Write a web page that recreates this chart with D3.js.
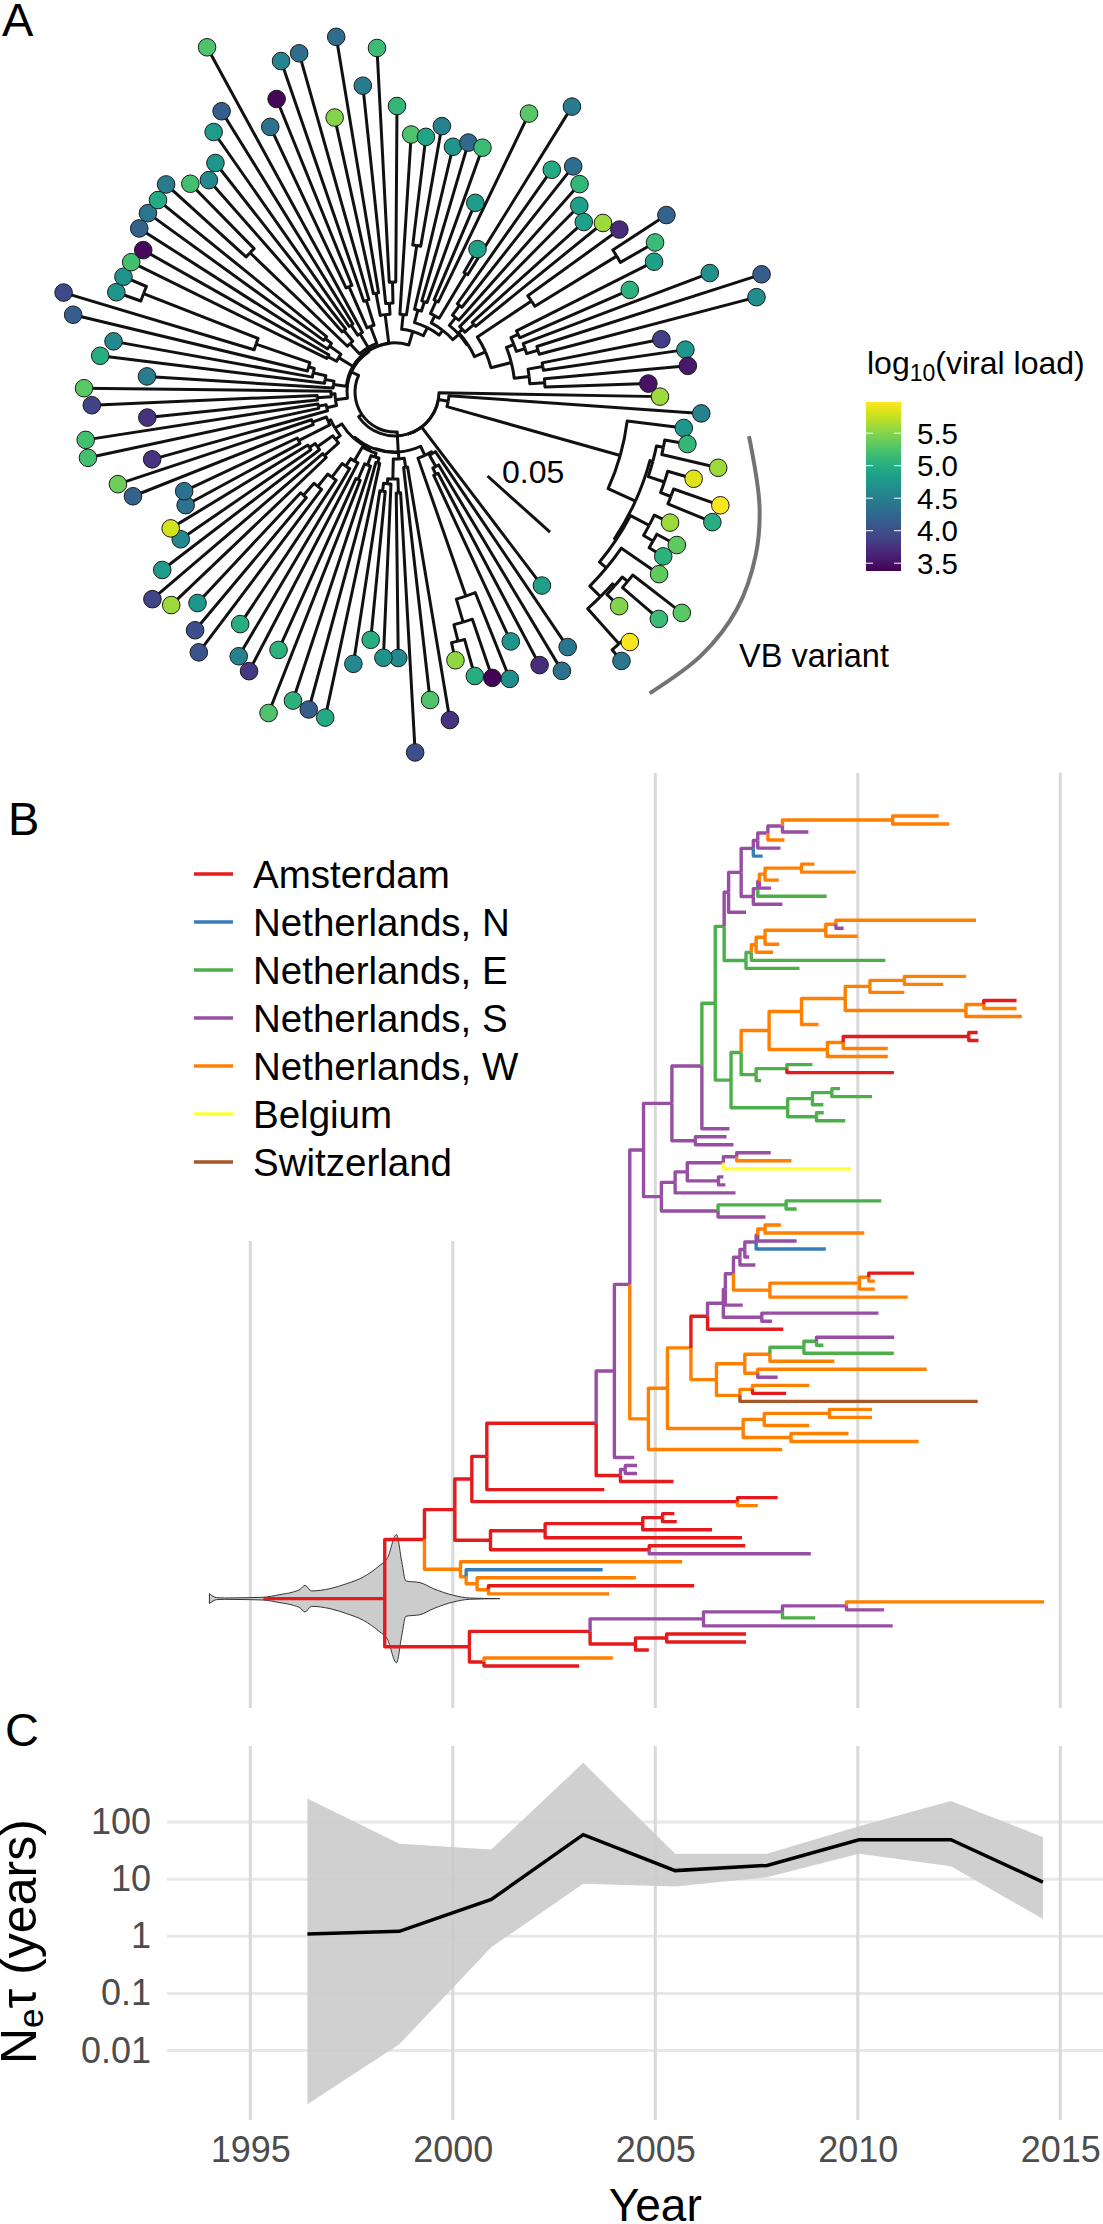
<!DOCTYPE html>
<html><head><meta charset="utf-8">
<script src="https://cdn.jsdelivr.net/npm/d3@7"></script>
<style>html,body{margin:0;padding:0;background:#fff}svg{display:block}text{font-family:"Liberation Sans",Arial,sans-serif}</style>
</head><body><svg id="c" width="1103" height="2224"></svg>
<script>
// ---------- Panel A data: tips clockwise, tree distance units (84 units = 0.05)
const tipAngle=[1,4,7.1,10.1,13.2,16.2,19.2,22.3,25.4,28.5,31.5,34.6,37.6,40.7,43.7,46.8,49.9,52.8,55.9,59.1,62.1,65.1,68.2,71.2,74.3,77.3,80.5,83.5,86.8,89.3,92.5,95.6,98.7,102.1,105.2,108.3,111.5,114.3,117.6,120.6,123.7,127,130,133.1,136.4,139.5,142.6,145.5,148.7,151.6,154.8,158.3,161.6,164.5,167.9,171.2,174.1,177.5,180.7,183.6,187,190.2,193.5,196.7,199.7,203,206.2,209.4,212.6,215.9,219,222.2,225.5,228.7,231.9,235.1,238.3,241.4,244.8,248,251,254.2,257.6,260.6,264,267,270.4,273.6,276.9,280,283.3,286.4,289.7,293,295.7,300,301.8,305.2,308.3,311.6,314.7,318,320.9,324.1,326.9,330.1,333.3,336.5,339.3,342.2,345.3,348.8,351.7,354.9,358.1];
const tipDist=[265,307,291,297,332,311,344.5,343,304.5,320.7,314.6,320.8,362,348,310,343,351.6,243,308,325,309,275,309,302,295,275,332.6,310,361,266,266,249,275,333,329,325,345,283,315,307,279,326,311,289,309,319,293,260,262.5,238,233,282,292,252,314,313,249,303.5,311,248.5,297,286,331,346,296,295,294,289,303.6,305,305,309,292,282,291,317,330,392.6,293,316,350,352,281,360,308,344.5,286,258,257,270,252,260,259.5,205.5,309,165,335.8,272,287.5,278,262,254,268,277,324,300,290,256,336.5,385,373.7,271.5,293.5,294,253.5];
const tipLoad=[5.6,4.5,4.75,5.1,5.6,5.85,5.95,5.0,5.6,5.35,5.05,5.35,5.3,5.15,5.5,5.95,4.4,4.85,4.4,4.35,3.7,4.75,4.65,3.4,5.0,5.55,3.75,5.25,4.0,4.6,4.7,5.0,4.6,4.95,4.15,5.05,5.25,5.05,3.8,4.5,5.0,4.05,4.0,4.75,5.6,3.9,4.8,4.6,5.8,4.35,4.35,4.2,5.4,3.75,5.2,5.2,3.75,3.9,5.3,4.45,5.0,4.6,4.15,3.95,4.75,4.7,5.2,3.45,4.2,4.4,4.95,4.45,5.2,4.6,4.75,4.8,4.15,5.25,4.35,3.42,4.55,4.3,5.5,4.3,4.45,5.15,5.1,5.25,4.9,4.5,4.75,4.25,5.15,4.8,5.3,4.85,4.45,4.95,4.3,5.1,4.85,4.85,5.6,3.7,4.2,5.15,4.85,5.05,4.7,4.15,4.65,3.85,4.75,3.55,3.5];
// nested tree: [node distance, ...children]; 0 = next tip in order
const treeAVB=[234,0,[264,[267,[274,0,0],[284,0,[295,0,0]]],[266,[287,0,[298,0,0]],[275,0,[290,[293,[300,0,0],0],[337,0,0]]]]]];
const treeASouth=[70,[72,0,[85,0,[92,0,0]]],[216,0,[240,0,[257,0,0]]]];
const treeAM=[67,[76,0,0],[87,[101,0,0],[92,0,[100,0,0]]]];
const treeALB=[68,[73,0,0],[78,0,[95,0,0]]];
const treeALC=[80,0,[89,0,[106,0,[122,0,[138,0,0]]]]];
const treeALE=[70,[76,[95,0,0],[95,0,[102,0,0]]],[73,[108,0,0],[88,0,0]]];
const treeABottom=[60,treeASouth,[60.5,treeAM,[62,[64,treeALB,treeALC],treeALE]]];
const treeARight=[78,[86,[100,0,0],[138,0,0]],[86,[96,[108,0,0],0],[87,[92,0,[104,0,0]],[99,[164,0,[260,0,0]],[120,[128,[136,0,0],[137,0,[149,0,0]]],[135,[150,0,0],[150,0,0]]]]]]];
const treeATop=[63,[78,0,[148,0,0]],[72,[85,0,[95,0,0]],treeARight]];
const treeAUpper=[49,[62,0,[71,0,[84,0,[90,0,[147,0,[270,0,0]]]]]],[66,[76,0,0],[80,0,[88,0,0]]],[52,[66,[201,0,0],[80,0,0]],[68,[80,0,0],0],[70,[115,0,0],[96,0,0]]],[78,[100.7,0,0],[89,0,[110,0,0]]],treeATop];
const treeA=[44,0,[54,0,treeAVB],0,[40,treeABottom,[48,[60,[70,0,[78,0,0]],[64,[78,0,0],0]],treeAUpper]]];
const vbAngle=[7.1,17.4,24.4,32.4,40.6,49.8], vbDist=[356.7,382,396,405,404,394.5];
const loadTicks=[3.5,4.0,4.5,5.0,5.5], loadDomain=[3.38,5.98];

// ---------- Panel B data
const regionNames=["Amsterdam","Netherlands, N","Netherlands, E","Netherlands, S","Netherlands, W","Belgium","Switzerland"];
const regionKeys=["A","N","E","S","W","B","C"];
const regionColors=["#E41A1C","#377EB8","#4DAF4A","#984EA3","#FF7F00","#FFFF33","#A65628"];
// node = [region, year, ...children]
const cladeS1=["S",2007.12,["S",2007.42,["S",2007.53,["S",2007.78,["S",2008.14,["W",2010.86,["W",2012.00],["W",2012.26]],["S",2008.78]],["W",2008.19]],["S",2008.09]],["N",2007.65]],["S",2007.42,["S",2007.53,["S",2007.57,["W",2007.71,["W",2008.61,["W",2008.93],["W",2009.95]],["W",2008.05]],["S",2007.86]],["E",2009.23]],["S",2008.14]]];
const cladeE1=["E",2007.24,["E",2007.37,["W",2007.49,["W",2007.71,["W",2009.21,["W",2009.46,["W",2012.92],["S",2009.65]],["W",2010.00]],["W",2008.06]],["W",2007.91]],["E",2010.68]],["E",2008.56]];
const cladeW1=["W",2007.81,["W",2008.61,["W",2009.69,["W",2010.30,["W",2011.15,["W",2012.67],["W",2012.11]],["W",2011.15]],["W",2012.67,["W",2013.11,["A",2013.92],["W",2013.92]],["W",2014.05]]],["W",2009.03]],["W",2009.25,["W",2009.64,["A",2012.74,["A",2012.96],["A",2012.98]],["W",2010.74]],["W",2010.74]]];
const cladeE2=["E",2006.87,["E",2007.12,cladeW1,["E",2007.49,["E",2008.25,["E",2008.88],["A",2010.89]],["E",2007.61]]],["E",2008.27,["E",2008.88,["E",2009.36,["E",2009.56],["E",2010.35]],["E",2009.15]],["E",2008.98,["E",2009.16],["E",2009.69]]]];
const cladeUpper=["S",2005.41,["S",2006.15,["E",2006.48,["E",2006.70,["S",2006.81,cladeS1,["S",2007.24]],cladeE1],cladeE2],["S",2006.83]],["S",2005.99,["S",2006.76],["S",2006.93]]];
const cladeMid=["S",2005.15,["S",2005.49,["S",2005.79,["S",2006.68,["S",2007.01,["S",2007.85],["W",2008.36]],["B",2009.83]],["S",2006.56,["S",2006.68],["S",2006.73]]],["S",2006.98]],["S",2006.55,["E",2008.23,["E",2010.58],["E",2008.49]],["S",2007.72]]];
const cladeS2=["S",2006.93,["S",2007.09,["S",2007.21,["S",2007.49,["S",2007.53,["W",2007.71,["W",2008.10],["W",2010.16]],["S",2008.49]],["N",2009.21]],["S",2007.32]],["S",2007.47]],["W",2007.83,["W",2010.04,["W",2010.27,["A",2011.39],["W",2010.42]],["W",2010.42]],["W",2011.23]]];
const cladeW2=["W",2004.83,["W",2005.30,["W",2005.88,["A",2006.29,["S",2006.68,["S",2006.73,cladeS2,["S",2007.16]],["S",2007.63,["S",2010.51],["S",2007.88]]],["A",2008.16]],["W",2006.51,["W",2007.21,["W",2007.83,["E",2008.67,["E",2008.98,["S",2010.90],["E",2009.15]],["E",2010.89]],["W",2009.42]],["W",2007.53,["W",2011.70],["S",2008.02]]],["W",2007.09,["W",2007.40,["W",2008.80],["A",2008.23]],["C",2012.96]]]],["W",2007.17,["W",2007.69,["W",2009.30,["W",2010.35],["W",2010.35]],["W",2008.80]],["W",2008.35,["W",2009.77],["W",2011.50]]]],["W",2008.13]];
const cladeTop=["A",1999.30,["A",2000.05,["A",2000.47,["A",2000.84,["A",2003.54,["S",2003.99,["S",2004.37,["S",2004.71,cladeUpper,cladeMid],cladeW2],["S",2004.48]],["A",2004.14,["S",2004.26,["S",2004.55],["S",2004.55]],["A",2005.45]]],["A",2003.74]],["A",2007.03,["A",2008.02],["W",2007.53]]],["A",2000.93,["A",2002.28,["A",2004.69,["A",2005.18,["A",2005.47],["A",2005.53]],["A",2006.40]],["A",2007.14]],["A",2004.85,["A",2007.22],["S",2008.84]]]],["W",2000.19,["W",2005.66],["W",2000.33,["N",2003.70],["W",2000.60,["W",2004.52],["W",2000.88,["A",2005.96],["W",2003.86]]]]]];
const cladeLow=["A",2000.41,["A",2003.39,["S",2006.19,["S",2008.14,["S",2009.72,["W",2014.60],["S",2010.65]],["E",2008.95]],["S",2010.86]],["A",2004.51,["A",2005.28,["A",2007.24],["A",2007.24]],["A",2004.84]]],["A",2000.77,["W",2003.95],["A",2003.12]]];
const treeB=["A",1998.32,cladeTop,cladeLow];
const rootStemYear=1995.32, rootStemRow=97.6, violinRow=97.6;
const violinYear=[1993.99,1994.17,1994.37,1994.99,1995.32,1995.73,1996.06,1996.23,1996.35,1996.51,1996.97,1997.38,1997.79,1998.20,1998.38,1998.61,1998.74,1998.84,1999.19,1999.52,2000.01,2000.42,2001.16];
const violinWidth=[0.62,0.125,0.08,0.125,0.17,0.5,0.83,1.16,1.66,0.96,1.25,1.87,2.7,4.16,5,8,4.6,2.2,2,1.25,0.42,0.08,0];

// ---------- Panel C data
const skyYear=[1996.41,1998.68,2000.95,2003.22,2005.49,2007.76,2010.03,2012.30,2014.57];
const skyMedian=[1.1,1.22,4.4,60,14.1,17.4,49,49,8.9];
const skyUpper=[257,41.7,33,1084,27.8,27.8,84,233,54.6];
const skyLower=[0.00115,0.0129,0.645,8.3,7.4,10.8,27.8,16.9,2.0];
const yearTicks=[1995,2000,2005,2010,2015];
const netTicks=[100,10,1,0.1,0.01];
const netLabels=["100","10","1","0.1","0.01"];

// ---------- scales
const svg=d3.select("#c");
const x=d3.scaleLinear().domain([1995,2015]).range([250.3,1060.3]);
const rowY=d3.scaleLinear().domain([0,106]).range([816,1666]);
const rowScale=d3.scaleLinear().domain([0,1]).range([0,8.02]);
const yC=d3.scaleLog().domain([0.01,100]).range([2050.6,1822]);
const colorLoad=d3.scaleSequential(d3.interpolateViridis).domain(loadDomain);
const cx=395, cy=392;
const rA=d3.scaleLinear().domain([0,1]).range([0,1]);
const rad=d3.scaleLinear().domain([0,360]).range([0,2*Math.PI]);
const pol=(a,r)=>[cx+rA(r)*Math.cos(rad(a)),cy+rA(r)*Math.sin(rad(a))];

const tag=(t,xx,yy)=>svg.append("text").attr("x",xx).attr("y",yy).attr("font-size",47).attr("fill","#000").text(t);
tag("A",2,36);tag("B",8,835);tag("C",5,1746);

// ---------- Panel A
const rootA=d3.hierarchy(treeA,d=>Array.isArray(d)?d.slice(1):[]);
const leavesA=rootA.leaves();
leavesA.forEach((n,i)=>{n.ang=tipAngle[i];n.dist=tipDist[i];n.load=tipLoad[i];});
rootA.eachAfter(n=>{if(n.children){n.dist=n.data[0];n.ang=(n.children[0].ang+n.children[n.children.length-1].ang)/2;}});
const gA=svg.append("g").attr("fill","none").attr("stroke","#111").attr("stroke-width",3).attr("stroke-linejoin","round");
rootA.descendants().filter(n=>n.parent).forEach(n=>{
  const p=d3.path(), pr=n.parent, a0=rad(pr.ang), a1=rad(n.ang);
  p.arc(cx,cy,rA(pr.dist),a0,a1,a1<a0);
  const e=pol(n.ang,n.dist);p.lineTo(e[0],e[1]);
  gA.append("path").attr("d",p.toString());
});
svg.append("g").selectAll("circle").data(leavesA).join("circle")
  .attr("cx",d=>pol(d.ang,d.dist)[0]).attr("cy",d=>pol(d.ang,d.dist)[1]).attr("r",8.8)
  .attr("fill",d=>colorLoad(d.load)).attr("stroke","#1a1a1a").attr("stroke-width",1);
// scale bar (0.05)
const barUnits=d3.scaleLinear().domain([0,0.05]).range([0,84]);
const bl=barUnits(0.05);
svg.append("line").attr("x1",487.5).attr("y1",476).attr("x2",487.5+bl*Math.cos(rad(41.9))).attr("y2",476+bl*Math.sin(rad(41.9))).attr("stroke","#111").attr("stroke-width",3);
svg.append("text").attr("x",502).attr("y",483).attr("font-size",32).text("0.05");
// VB arc
const vbPts=vbAngle.map((a,i)=>pol(a,vbDist[i]));
svg.append("path").attr("d",d3.line().curve(d3.curveCatmullRom)(vbPts)).attr("fill","none").attr("stroke","#737373").attr("stroke-width",4);
svg.append("text").attr("x",739).attr("y",667).attr("font-size",32.5).text("VB variant");
// colourbar
const defs=svg.append("defs");
const gr=defs.append("linearGradient").attr("id","vir").attr("x1",0).attr("x2",0).attr("y1",1).attr("y2",0);
d3.range(0,1.001,0.05).forEach(t=>gr.append("stop").attr("offset",t).attr("stop-color",d3.interpolateViridis(t)));
const yBar=d3.scaleLinear().domain(loadDomain).range([571,402]);
svg.append("rect").attr("x",866).attr("y",402).attr("width",35).attr("height",169).attr("fill","url(#vir)");
loadTicks.forEach(v=>{
  [[866,873],[894,901]].forEach(s=>svg.append("line").attr("x1",s[0]).attr("x2",s[1]).attr("y1",yBar(v)).attr("y2",yBar(v)).attr("stroke","#fff").attr("stroke-width",1));
  svg.append("text").attr("x",917).attr("y",yBar(v)).attr("dy","0.36em").attr("font-size",29.5).text(d3.format(".1f")(v));
});
const ttl=svg.append("text").attr("x",867).attr("y",374).attr("font-size",32);
ttl.append("tspan").text("log");
ttl.append("tspan").attr("font-size",23).attr("dy",7).text("10");
ttl.append("tspan").attr("dy",-7).text("(viral load)");

// ---------- Panel B grid + legend mask
svg.append("g").selectAll("line").data(yearTicks).join("line")
  .attr("x1",d=>x(d)).attr("x2",d=>x(d)).attr("y1",773).attr("y2",1708).attr("stroke","#d9d9d9").attr("stroke-width",3);
svg.append("rect").attr("x",150).attr("y",773).attr("width",440).attr("height",468).attr("fill","#fff");
// violin
const vArea=d3.area().x((d,i)=>x(violinYear[i])).y0((d,i)=>rowY(violinRow)-rowScale(violinWidth[i])).y1((d,i)=>rowY(violinRow)+rowScale(violinWidth[i])).curve(d3.curveMonotoneX);
svg.append("path").attr("d",vArea(violinYear)).attr("fill","#cccccc").attr("stroke","#333").attr("stroke-width",1);
// tree
const colorRegion=d3.scaleOrdinal().domain(regionKeys).range(regionColors);
const rootB=d3.hierarchy(treeB,d=>d.slice(2));
rootB.leaves().forEach((n,i)=>n.row=i);
rootB.eachAfter(n=>{if(n.children)n.row=(n.children[0].row+n.children[n.children.length-1].row)/2;});
const gB=svg.append("g").attr("fill","none").attr("stroke-width",3.4).attr("stroke-linejoin","round");
gB.append("path").attr("d",d3.line()([[x(rootStemYear),rowY(rootStemRow)],[x(treeB[1]),rowY(rootStemRow)]])).attr("stroke",colorRegion("A"));
rootB.descendants().filter(n=>n.parent).forEach(n=>{
  gB.append("path").attr("stroke",colorRegion(n.data[0])).attr("d",d3.line()([[x(n.parent.data[1]),rowY(n.parent.row)],[x(n.parent.data[1]),rowY(n.row)],[x(n.data[1]),rowY(n.row)]]));
});
// legend
const legY=d3.scaleLinear().domain([0,6]).range([874,1162]);
regionNames.forEach((t,i)=>{
  svg.append("line").attr("x1",194).attr("x2",233).attr("y1",legY(i)).attr("y2",legY(i)).attr("stroke",regionColors[i]).attr("stroke-width",3.5);
  svg.append("text").attr("x",253).attr("y",legY(i)).attr("dy","0.36em").attr("font-size",38.5).text(t);
});

// ---------- Panel C
svg.append("g").selectAll("line").data(netTicks).join("line").attr("x1",167).attr("x2",1103).attr("y1",d=>yC(d)).attr("y2",d=>yC(d)).attr("stroke","#e8e8e8").attr("stroke-width",3);
svg.append("g").selectAll("line").data(yearTicks).join("line").attr("x1",d=>x(d)).attr("x2",d=>x(d)).attr("y1",1746).attr("y2",2120).attr("stroke","#d9d9d9").attr("stroke-width",3);
const band=d3.area().x((d,i)=>x(skyYear[i])).y0((d,i)=>yC(skyLower[i])).y1((d,i)=>yC(skyUpper[i]));
svg.append("path").attr("d",band(skyYear)).attr("fill","#c9c9c9").attr("fill-opacity",0.88);
svg.append("path").attr("d",d3.line().x((d,i)=>x(skyYear[i])).y((d,i)=>yC(skyMedian[i]))(skyYear)).attr("fill","none").attr("stroke","#000").attr("stroke-width",3.5);
const axB=svg.append("g").attr("transform","translate(0,2125)").call(d3.axisBottom(x).tickValues(yearTicks).tickFormat(d3.format("d")).tickSize(0).tickPadding(11));
const axL=svg.append("g").attr("transform","translate(156,0)").call(d3.axisLeft(yC).tickValues(netTicks).tickFormat((d,i)=>netLabels[i]).tickSize(0).tickPadding(5));
[axB,axL].forEach(a=>{a.select(".domain").remove();a.selectAll("text").attr("font-size",36).attr("fill","#4d4d4d").attr("font-family",'"Liberation Sans",Arial,sans-serif');});
svg.append("text").attr("x",x(2005)).attr("y",2221).attr("text-anchor","middle").attr("font-size",46).text("Year");
const yl=svg.append("text").attr("transform","translate(36,2064) rotate(-90)").attr("font-size",50);
yl.append("tspan").text("N");
yl.append("tspan").attr("font-size",35).attr("dy",7).text("e");
yl.append("tspan").attr("dy",-7).text("τ (years)");
</script></body></html>
